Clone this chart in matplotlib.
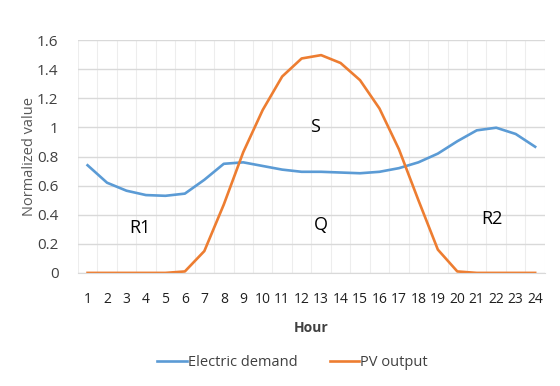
import matplotlib.pyplot as plt

hours = list(range(1, 25))
electric_demand = [0.74, 0.62, 0.565, 0.535, 0.53, 0.545, 0.64, 0.75, 0.76, 0.735, 0.71, 0.695,
                   0.695, 0.69, 0.685, 0.695, 0.72, 0.76, 0.82, 0.905, 0.98, 0.998, 0.955, 0.867]
pv_output = [0, 0, 0, 0, 0, 0.01, 0.15, 0.47, 0.83, 1.12, 1.35, 1.474,
             1.497, 1.443, 1.325, 1.13, 0.85, 0.5, 0.16, 0.01, 0, 0, 0, 0]
region_labels = ['R1', 'S', 'Q', 'R2']
region_pos = [(3.7, 0.31), (12.7, 1.0), (13.0, 0.33), (21.8, 0.37)]

plt.rcParams['font.family'] = ['Open Sans', 'DejaVu Sans']
grey = '#404040'

fig = plt.figure(figsize=(5.6, 3.86), dpi=100)
ax = fig.add_axes([0.139, 0.293, 0.834, 0.603])

ax.plot(hours, electric_demand, color='#5B9BD5', lw=1.9, label='Electric demand')
ax.plot(hours, pv_output, color='#ED7D31', lw=1.9, label='PV output')

for lab, (x, y) in zip(region_labels, region_pos):
    ax.text(x, y, lab, fontsize=13, color='black', ha='center', va='center')

ax.set_xlim(0.5, 24.5)
ax.set_ylim(0, 1.6)
ax.set_xticks(hours)
ax.set_xticklabels([str(h) for h in hours], fontsize=10, color='#202020')
ax.set_yticks([0, 0.2, 0.4, 0.6, 0.8, 1.0, 1.2, 1.4, 1.6])
ax.set_yticklabels(['0', '0.2', '0.4', '0.6', '0.8', '1', '1.2', '1.4', '1.6'],
                   fontsize=11, color=grey)
ax.tick_params(axis='y', length=0, pad=14)
ax.tick_params(axis='x', length=0, pad=14)

ax.set_xticks([h + 0.5 for h in range(0, 25)], minor=True)
ax.grid(axis='y', which='major', color='#D9D9D9', lw=1)
ax.grid(axis='x', which='minor', color='#EDEDED', lw=0.8)
ax.tick_params(which='minor', length=0)
ax.set_axisbelow(True)
for s in ['top', 'right', 'left']:
    ax.spines[s].set_visible(False)
ax.spines['bottom'].set_color('#D9D9D9')

ax.set_xlabel('Hour', fontsize=10, color=grey, fontweight='bold', labelpad=10)
ax.set_ylabel('Normalized value', fontsize=10.5, color='#595959', labelpad=0)

ax.legend(loc='center', bbox_to_anchor=(0.46, -0.387), ncol=2, frameon=False,
          fontsize=10.5, handlelength=2.0, columnspacing=2.2, handletextpad=0.1,
          labelcolor=grey)

fig.savefig('out.png', dpi=100)
